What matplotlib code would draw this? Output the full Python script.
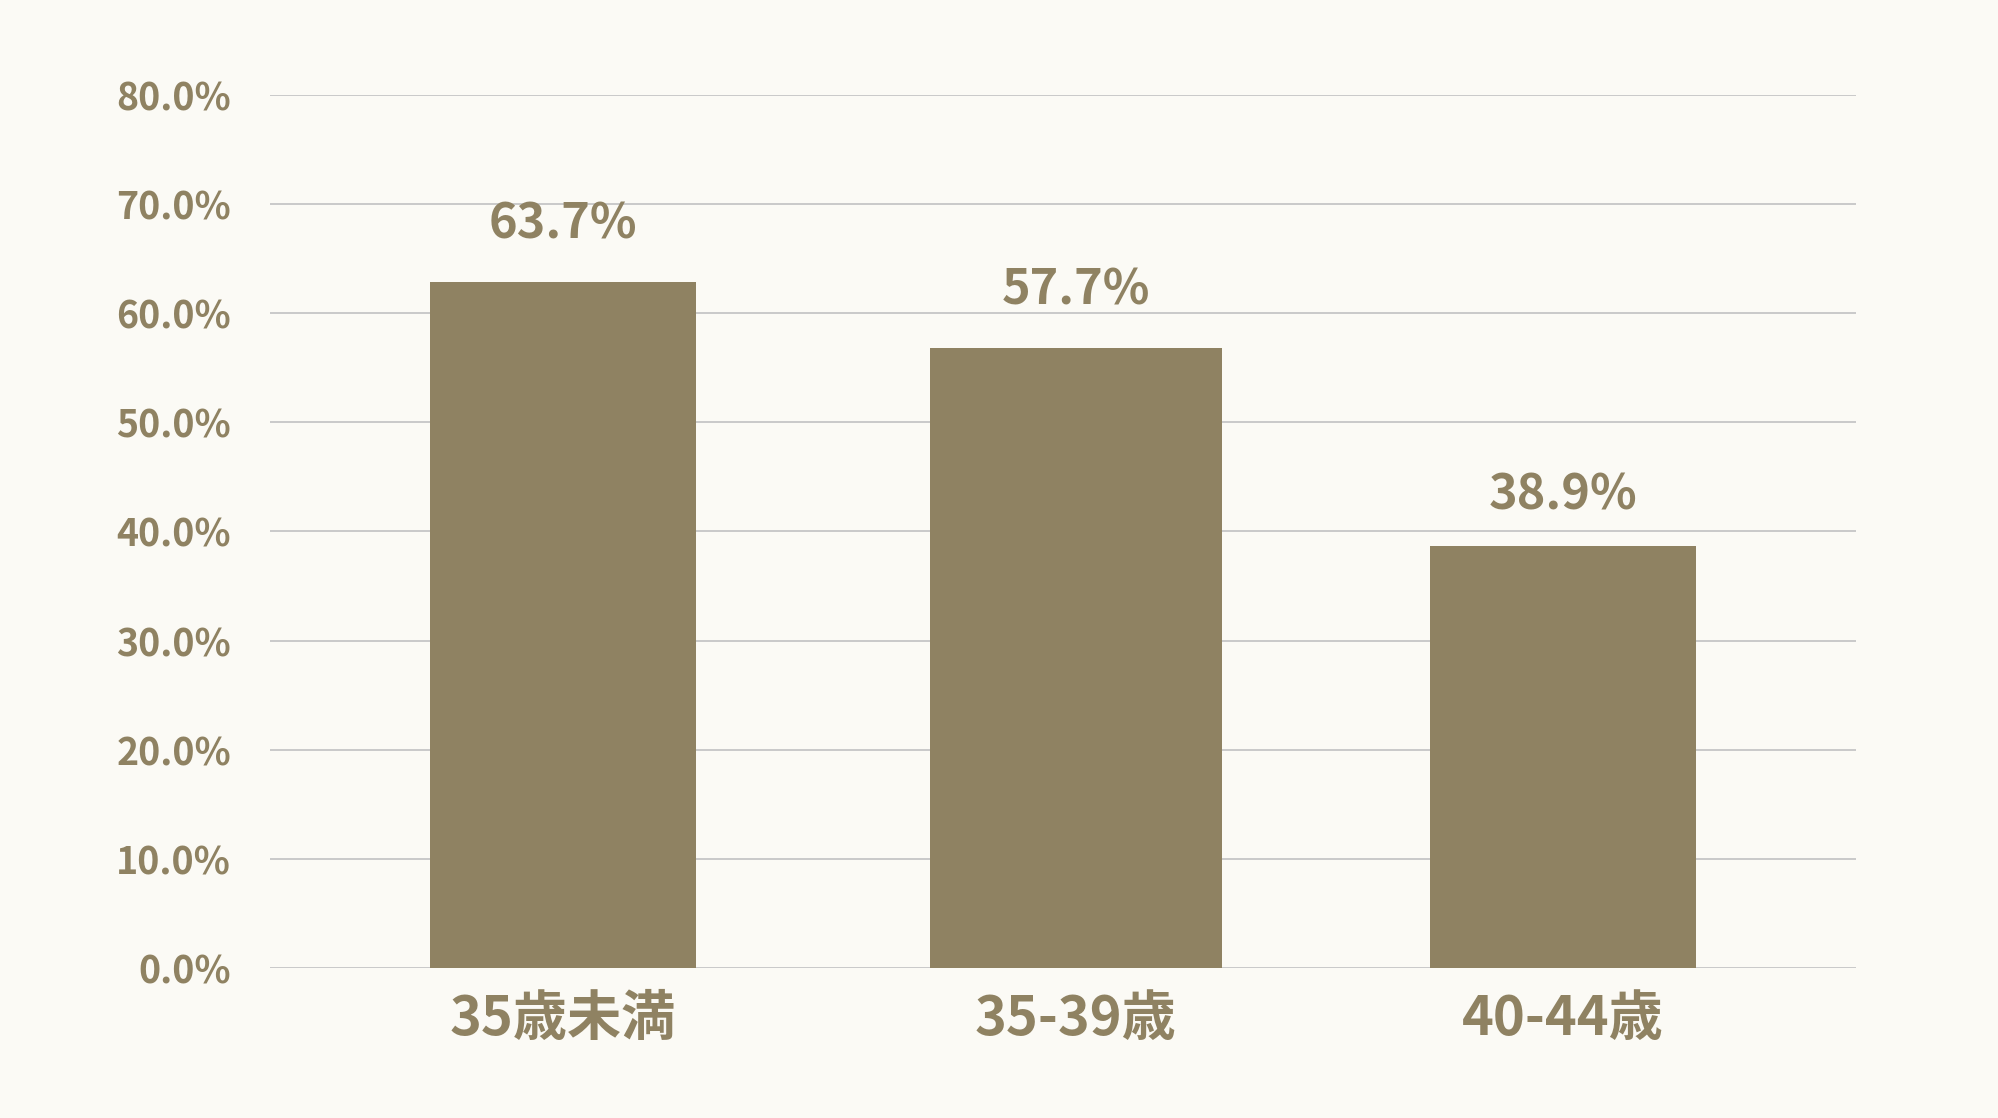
import matplotlib
matplotlib.use("Agg")
import matplotlib.pyplot as plt
from matplotlib.ticker import FuncFormatter

plt.rcParams['font.family'] = ['Noto Sans CJK JP', 'DejaVu Sans']

# Data
categories = ["35歳未満", "35-39歳", "40-44歳"]
bar_heights = [62.9, 56.8, 38.7]      # drawn bar heights (%)
label_values = [63.7, 57.7, 38.9]     # values printed above bars (%)
y_ticks = [0, 10, 20, 30, 40, 50, 60, 70, 80]

# Styles
bg = "#FBFAF5"
bar_color = "#8F8262"
text_color = "#8F8262"
grid_color = "#C9C9C9"
bar_widths = [0.532, 0.584, 0.532]
bar_offsets = [0.0, 0.026, 0.0]

fig = plt.figure(figsize=(19.98, 11.18), dpi=100, facecolor=bg)
ax = fig.add_axes([0.1351, 0.1342, 0.9289 - 0.1351, 0.915 - 0.1342])
ax.set_facecolor(bg)

x = [i + o for i, o in zip(range(len(categories)), bar_offsets)]
ax.bar(x, bar_heights, width=bar_widths, color=bar_color, zorder=3)

for xi, lv in zip(x, label_values):
    ax.annotate(f"{lv:.1f}%", xy=(xi, lv), xytext=(0, 24.5), textcoords="offset points",
                ha="center", va="baseline", fontsize=35, fontweight="bold",
                color=text_color)

ax.set_ylim(0, 80)
ax.set_xlim(-0.586, 2.586)
ax.set_yticks(y_ticks)
ax.yaxis.set_major_formatter(FuncFormatter(lambda v, p: f"{v:.1f}%"))
ax.set_xticks(x)
ax.set_xticklabels(categories)

ax.grid(axis="y", color=grid_color, linewidth=1.4, zorder=0)
ax.set_axisbelow(True)
for s in ax.spines.values():
    s.set_visible(False)

ax.tick_params(axis="y", length=0, pad=28, labelsize=27, labelcolor=text_color)
ax.tick_params(axis="x", length=0, pad=17, labelsize=39, labelcolor=text_color)
for lbl in ax.get_yticklabels():
    lbl.set_fontweight("bold")
for lbl in ax.get_xticklabels():
    lbl.set_fontweight("bold")

fig.savefig("out.png", dpi=100, facecolor=bg)
